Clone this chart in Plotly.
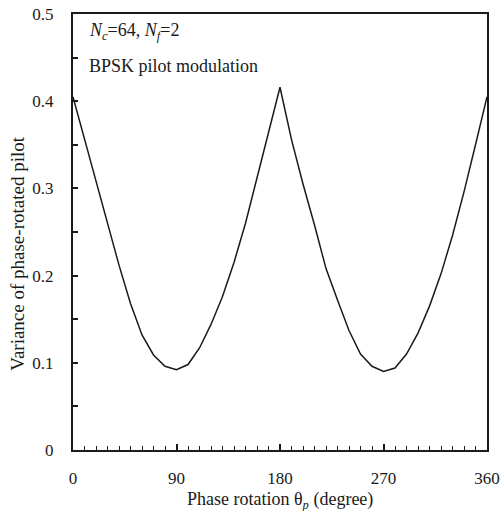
import plotly.graph_objects as go

phase_deg = [0, 10, 20, 30, 40, 50, 60, 70, 80, 90, 100, 110, 120, 130, 140, 150, 160, 170, 180,
             190, 200, 210, 220, 230, 240, 250, 260, 270, 280, 290, 300, 310, 320, 330, 340, 350, 360]
variance = [0.405, 0.357, 0.310, 0.262, 0.212, 0.168, 0.132, 0.109, 0.096, 0.092,
            0.098, 0.117, 0.144, 0.176, 0.215, 0.260, 0.312, 0.365, 0.416,
            0.356, 0.305, 0.258, 0.208, 0.172, 0.137, 0.110, 0.096, 0.090,
            0.094, 0.110, 0.134, 0.165, 0.202, 0.246, 0.296, 0.350, 0.405]
x_ticks = [0, 90, 180, 270, 360]
y_ticks = [0, 0.1, 0.2, 0.3, 0.4, 0.5]
y_tick_labels = ["0", "0.1", "0.2", "0.3", "0.4", "0.5"]

FONT = "Liberation Serif, serif"

fig = go.Figure()
fig.add_trace(go.Scatter(x=phase_deg, y=variance, mode="lines",
                         line=dict(color="#1a1a1a", width=1.5), showlegend=False))

fig.update_layout(
    width=503, height=511,
    margin=dict(l=73, r=16, t=14, b=61, autoexpand=False),
    paper_bgcolor="white", plot_bgcolor="white",
    font=dict(family=FONT, size=17, color="#1a1a1a"),
    xaxis=dict(range=[0, 360], tickvals=x_ticks, ticks="inside", ticklen=6, tickwidth=1.5,
               tickcolor="#1a1a1a", showline=True, linecolor="#1a1a1a", linewidth=2, mirror=True,
               showgrid=False, zeroline=False, ticklabelstandoff=12, automargin=False,
               tickfont=dict(family=FONT, size=17),
               minor=dict(dtick=10, tick0=0, ticks="inside", ticklen=4, tickwidth=1.2,
                          tickcolor="#1a1a1a", showgrid=False)),
    yaxis=dict(range=[0, 0.5], tickvals=y_ticks, ticktext=y_tick_labels, ticks="inside",
               ticklen=5, tickwidth=1.5, tickcolor="#1a1a1a", showline=True,
               linecolor="#1a1a1a", linewidth=2, mirror=True, showgrid=False, zeroline=False,
               ticklabelstandoff=14, automargin=False, tickfont=dict(family=FONT, size=17),
               minor=dict(dtick=0.05, tick0=0, ticks="inside", ticklen=5, tickwidth=1.5,
                          tickcolor="#1a1a1a", showgrid=False)),
)

# axis titles placed as annotations
fig.add_annotation(x=0.5, y=-0.115, xref="paper", yref="paper", xanchor="center", yanchor="middle",
                   text="Phase rotation θ<sub><i>p</i></sub> (degree)", showarrow=False,
                   font=dict(family=FONT, size=18))
fig.add_annotation(x=-0.133, y=0.45, xref="paper", yref="paper", xanchor="center", yanchor="middle",
                   text="Variance of phase-rotated pilot", textangle=-90, showarrow=False,
                   font=dict(family=FONT, size=19))

fig.add_annotation(x=0.034, y=0.959, xref="paper", yref="paper", xanchor="left", yanchor="middle",
                   text="<i>N</i><sub><i>c</i></sub>=64, <i>N</i><sub><i>f</i></sub>=2",
                   showarrow=False, font=dict(family=FONT, size=18))
fig.add_annotation(x=0.034, y=0.881, xref="paper", yref="paper", xanchor="left", yanchor="middle",
                   text="BPSK pilot modulation", showarrow=False, font=dict(family=FONT, size=18))

fig.write_html("out.html", config={"displayModeBar": False},
               post_script="document.body.style.margin='0';document.body.style.overflow='hidden';")
